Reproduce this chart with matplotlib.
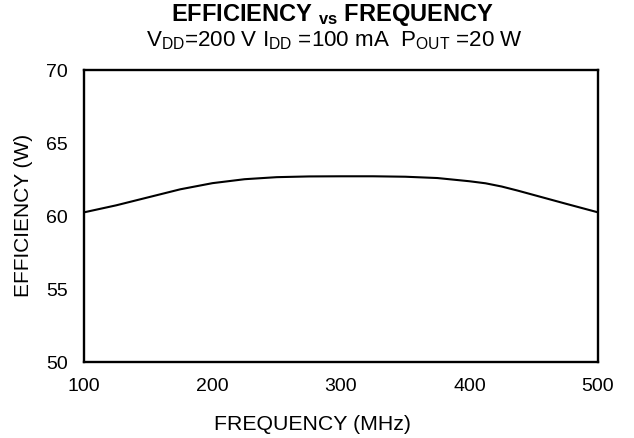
import matplotlib
matplotlib.use("Agg")
import matplotlib.pyplot as plt

freq_mhz = [100, 125, 150, 175, 200, 225, 250, 275, 300, 325, 350, 375, 400, 412.5, 425, 437.5, 450, 475, 500]
efficiency = [60.25, 60.73, 61.28, 61.83, 62.25, 62.52, 62.66, 62.71, 62.72, 62.72, 62.69, 62.6, 62.38, 62.24, 62.02, 61.74, 61.44, 60.84, 60.25]
x_ticks = [100, 200, 300, 400, 500]
y_ticks = [50, 55, 60, 65, 70]

plt.rcParams['font.family'] = ['Liberation Sans', 'DejaVu Sans']
plt.rcParams['mathtext.fontset'] = 'custom'
plt.rcParams['mathtext.rm'] = 'Liberation Sans'
plt.rcParams['mathtext.it'] = 'Liberation Sans'
plt.rcParams['mathtext.bf'] = 'Liberation Sans:bold'

W, H = 634, 439
fig = plt.figure(figsize=(W / 100, H / 100), dpi=100)
L, R, T, B = 84, 598, 71, 363
ax = fig.add_axes([L / W, 1 - B / H, (R - L) / W, (B - T) / H])

ax.plot(freq_mhz, efficiency, color='black', lw=1.5, solid_capstyle='butt',
        solid_joinstyle='round')
ax.set_xlim(100, 500)
ax.set_ylim(50, 70)
ax.set_xticks(x_ticks)
ax.set_yticks(y_ticks)
ax.tick_params(axis='both', length=0, labelsize=14, colors='black')
ax.tick_params(axis='x', pad=11)
ax.tick_params(axis='y', pad=11.5)
for s in ax.spines.values():
    s.set_linewidth(1.7)
    s.set_color('black')

fig.text(332 / W, 1 - 21 / H, r'EFFICIENCY $_{\mathbf{vs}}$ FREQUENCY', ha='center',
         va='baseline', fontsize=17, fontweight='bold')
fig.text(334.5 / W, 1 - 46 / H,
         r'V$_{\mathrm{DD}}$=200 V I$_{\mathrm{DD}}$ =100 mA  P$_{\mathrm{OUT}}$ =20 W',
         ha='center', va='baseline', fontsize=16.1)
fig.text(312.7 / W, 1 - 430 / H, 'FREQUENCY (MHz)', ha='center', va='baseline', fontsize=15.3)
fig.text(24 / W, 1 - 215.7 / H, 'EFFICIENCY (W)', ha='center', va='center',
         rotation=90, fontsize=15)

fig.savefig('out.png', dpi=100)
